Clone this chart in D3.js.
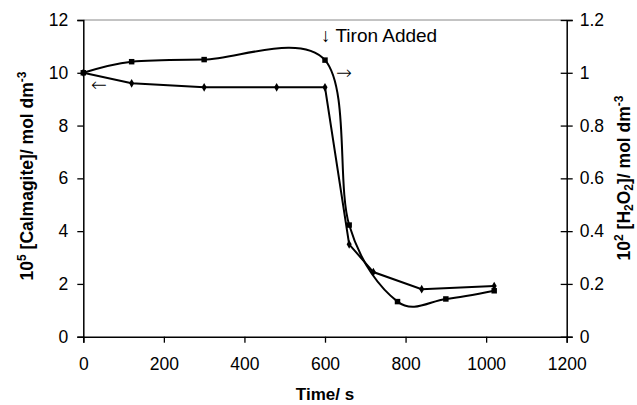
<!DOCTYPE html>
<html>
<head>
<meta charset="utf-8">
<script src="https://cdn.jsdelivr.net/npm/d3@7"></script>
<style>
body { margin: 0; background: #fff; }
text { font-family: Arial, "Liberation Sans", sans-serif; fill: #000; }
</style>
</head>
<body>
<svg id="chart" width="637" height="405"></svg>
<script>
// Calmagite (left axis, x10^5 mol dm^-3) - diamond markers
var calmTime = [0, 120, 300, 480, 600, 660, 720, 840, 1020];
var calmVal = [10, 9.6, 9.45, 9.45, 9.45, 3.5, 2.45, 1.8, 1.92];
// H2O2 (right axis, x10^2 mol dm^-3) - square markers
var h2o2Time = [0, 120, 300, 600, 660, 780, 900, 1020];
var h2o2Val = [1.0, 1.042, 1.05, 1.048, 0.423, 0.133, 0.143, 0.174];

var xTicks = [0, 200, 400, 600, 800, 1000, 1200];
var yLeftTicks = [0, 2, 4, 6, 8, 10, 12];
var yRightTicks = [0, 0.2, 0.4, 0.6, 0.8, 1, 1.2];

var svg = d3.select("#chart");
var plotL = 83.3, plotR = 566.7, plotT = 20, plotB = 336.7;

var x = d3.scaleLinear().domain([0, 1200]).range([plotL, plotR]);
var yL = d3.scaleLinear().domain([0, 12]).range([plotB, plotT]);
var yR = d3.scaleLinear().domain([0, 1.2]).range([plotB, plotT]);

// top border of plot area
svg.append("line")
    .attr("x1", plotL).attr("x2", plotR)
    .attr("y1", plotT).attr("y2", plotT)
    .attr("stroke", "#888").attr("stroke-width", 1);

var gx = svg.append("g")
    .attr("transform", "translate(0," + plotB + ")")
    .call(d3.axisBottom(x).tickValues(xTicks).tickSize(6).tickPadding(15).tickFormat(d3.format("d")));

var gl = svg.append("g")
    .attr("transform", "translate(" + plotL + ",0)")
    .call(d3.axisLeft(yL).tickValues(yLeftTicks).tickSize(6).tickPadding(9).tickFormat(d3.format("d")));

var gr = svg.append("g")
    .attr("transform", "translate(" + plotR + ",0)")
    .call(d3.axisRight(yR).tickValues(yRightTicks).tickSize(6).tickPadding(7).tickFormat(function(d) { return String(+d.toFixed(1)); }));
gr.selectAll(".tick line").attr("x1", -6);

[gx, gl, gr].forEach(function(g) {
    g.select(".domain").attr("stroke", "#000").attr("stroke-width", 1.5);
    g.selectAll(".tick line").attr("stroke", "#000").attr("stroke-width", 1.3);
    g.selectAll(".tick text").style("font-size", "17.5px").attr("fill", "#000");
});

// series
var calmData = calmTime.map(function(t, i) { return {t: t, v: calmVal[i]}; });
var h2o2Data = h2o2Time.map(function(t, i) { return {t: t, v: h2o2Val[i]}; });

svg.append("path")
    .datum(calmData)
    .attr("fill", "none").attr("stroke", "#000").attr("stroke-width", 2)
    .attr("d", d3.line().x(function(d) { return x(d.t); }).y(function(d) { return yL(d.v); }));

svg.append("path")
    .datum(h2o2Data)
    .attr("fill", "none").attr("stroke", "#000").attr("stroke-width", 2)
    .attr("d", d3.line().curve(d3.curveCardinal.tension(0))
        .x(function(d) { return x(d.t); }).y(function(d) { return yR(d.v); }));

svg.selectAll(".calm-m")
    .data(calmData).enter().append("path")
    .attr("class", "calm-m")
    .attr("transform", function(d) { return "translate(" + x(d.t) + "," + yL(d.v) + ")"; })
    .attr("d", d3.symbol().type(d3.symbolDiamond).size(22))
    .attr("fill", "#000");

svg.selectAll(".h2o2-m")
    .data(h2o2Data).enter().append("path")
    .attr("class", "h2o2-m")
    .attr("transform", function(d) { return "translate(" + x(d.t) + "," + yR(d.v) + ")"; })
    .attr("d", d3.symbol().type(d3.symbolSquare).size(30))
    .attr("fill", "#000");

// annotations
svg.append("text").attr("x", 321).attr("y", 42)
    .style("font-size", "19px").text("\u2193 Tiron Added");
svg.append("text").attr("x", 91).attr("y", 91)
    .style("font-family", "'DejaVu Sans'").style("font-size", "19px").style("font-weight", "200").text("\u2190");
svg.append("text").attr("x", 336).attr("y", 79)
    .style("font-family", "'DejaVu Sans'").style("font-size", "19px").style("font-weight", "200").text("\u2192");

// axis titles
svg.append("text")
    .attr("x", 325).attr("y", 400)
    .attr("text-anchor", "middle")
    .style("font-size", "17px").style("font-weight", "bold")
    .text("Time/ s");

var tl = svg.append("text")
    .attr("transform", "translate(33,176) rotate(-90)")
    .attr("text-anchor", "middle")
    .style("font-size", "17.5px").style("font-weight", "bold");
tl.append("tspan").text("10");
tl.append("tspan").attr("dy", -7).style("font-size", "12px").text("5");
tl.append("tspan").attr("dy", 7).text(" [Calmagite]/ mol dm");
tl.append("tspan").attr("dy", -7).style("font-size", "12px").text("-3");

var tr = svg.append("text")
    .attr("transform", "translate(630,178) rotate(-90)")
    .attr("text-anchor", "middle")
    .style("font-size", "17.5px").style("font-weight", "bold");
tr.append("tspan").text("10");
tr.append("tspan").attr("dy", -7).style("font-size", "12px").text("2");
tr.append("tspan").attr("dy", 7).text(" [H");
tr.append("tspan").attr("dy", 3).style("font-size", "12px").text("2");
tr.append("tspan").attr("dy", -3).text("O");
tr.append("tspan").attr("dy", 3).style("font-size", "12px").text("2");
tr.append("tspan").attr("dy", -3).text("]/ mol dm");
tr.append("tspan").attr("dy", -7).style("font-size", "12px").text("-3");
</script>
</body>
</html>
